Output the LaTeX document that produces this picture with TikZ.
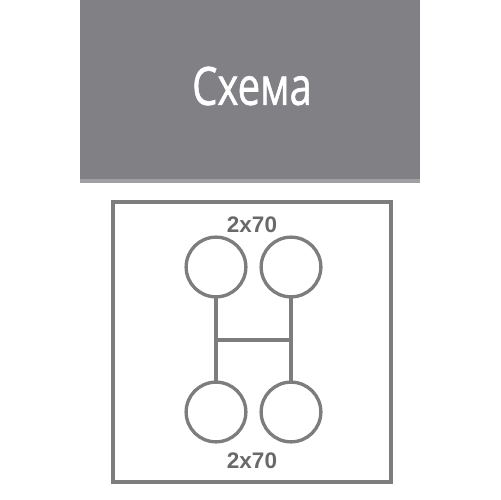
\documentclass[tikz,border=0pt]{standalone}
\usepackage{fontspec}
\setmainfont{Liberation Sans}
\newfontfamily\headfont[FakeBold=1.2]{Open Sans}
\usetikzlibrary{positioning}

\definecolor{headgray}{RGB}{128,128,133}
\definecolor{stripegray}{RGB}{160,160,163}
\definecolor{linegray}{RGB}{125,125,125}
\definecolor{textgray}{RGB}{105,105,105}

\tikzset{
  wire/.style={draw=linegray, line width=1.9pt},
  socket/.style={circle, draw=linegray, line width=1.9pt, minimum size=34pt, inner sep=0pt, outer sep=0pt},
  cable/.style={text=textgray, font=\fontsize{12.8pt}{14pt}\selectfont\bfseries, inner sep=0pt}
}

\begin{document}
\begin{tikzpicture}[x=0.02cm,y=-0.02cm]
  \useasboundingbox[fill=white] (0,0) rectangle (500,500);
  % header
  \fill[headgray] (80,0) rectangle (420,179);
  \fill[stripegray] (80,179) rectangle (420,183);
  \node[text=white, inner sep=0pt] (title) at (252,86)
    {\scalebox{0.76}[1]{\headfont\fontsize{30pt}{32pt}\selectfont Схема}};
  % frame
  \draw[wire] (113,202) rectangle (391,482);
  \node[cable] (toplabel) at (252,225) {2x70};
  \node[cable] (botlabel) at (252,461) {2x70};
  % sockets
  \node[socket] (tl) at (216,267) {};
  \node[socket] (tr) at (291,267) {};
  \node[socket] (bl) at (216,412) {};
  \node[socket] (br) at (291,412) {};
  \coordinate (jl) at (216,340);
  \coordinate (jr) at (291,340);
  \draw[wire] (tl.south) -- (bl.north);
  \draw[wire] (tr.south) -- (br.north);
  \draw[wire] (jl) -- (jr);
\end{tikzpicture}
\end{document}
